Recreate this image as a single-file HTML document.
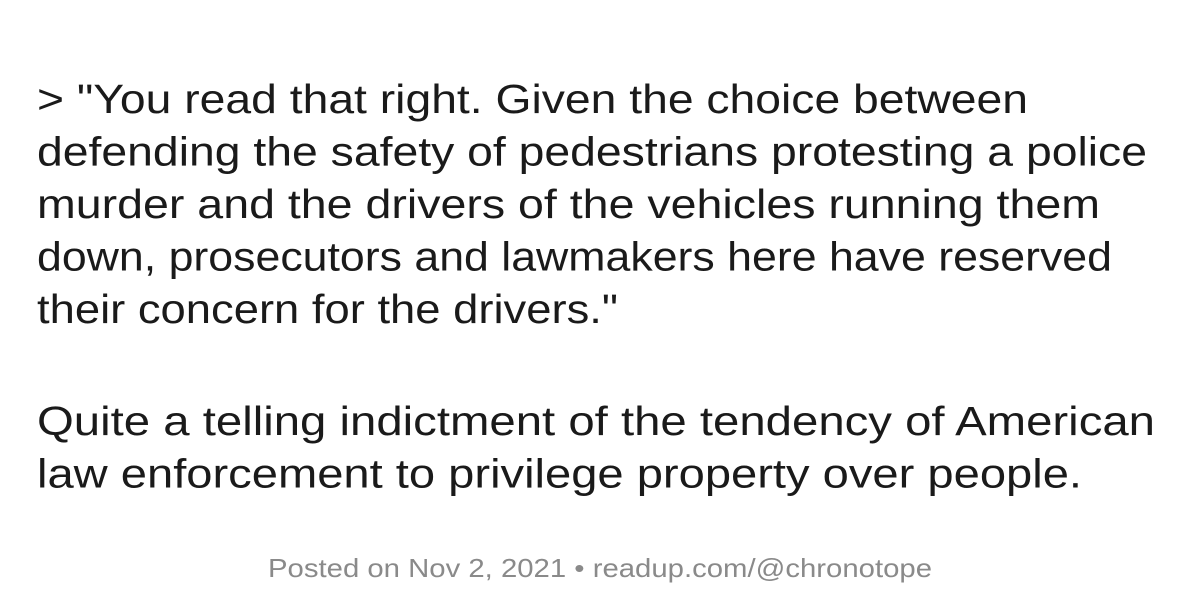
<!DOCTYPE html>
<html><head><meta charset="utf-8"><style>
html,body{margin:0;padding:0;background:#fff;width:1200px;height:599px;overflow:hidden}
text{font-family:"Liberation Sans",sans-serif}
</style></head><body>
<svg width="1200" height="599">
<g fill="#1a1a1a" font-size="41">
<text x="37" y="113" textLength="991" lengthAdjust="spacingAndGlyphs">&gt; "You read that right. Given the choice between</text>
<text x="37" y="165.5" textLength="1110" lengthAdjust="spacingAndGlyphs">defending the safety of pedestrians protesting a police</text>
<text x="37" y="218" textLength="1063" lengthAdjust="spacingAndGlyphs">murder and the drivers of the vehicles running them</text>
<text x="37" y="270.5" textLength="1075" lengthAdjust="spacingAndGlyphs">down, prosecutors and lawmakers here have reserved</text>
<text x="37" y="323" textLength="581" lengthAdjust="spacingAndGlyphs">their concern for the drivers."</text>
</g>
<g fill="#1a1a1a" font-size="41">
<text x="37" y="435" textLength="1118" lengthAdjust="spacingAndGlyphs">Quite a telling indictment of the tendency of American</text>
<text x="37" y="487.5" textLength="1045" lengthAdjust="spacingAndGlyphs">law enforcement to privilege property over people.</text>
</g>
<text x="268" y="577" fill="#8a8a8a" font-size="26" textLength="664" lengthAdjust="spacingAndGlyphs">Posted on Nov 2, 2021 • readup.com/@chronotope</text>
</svg>
</body></html>
